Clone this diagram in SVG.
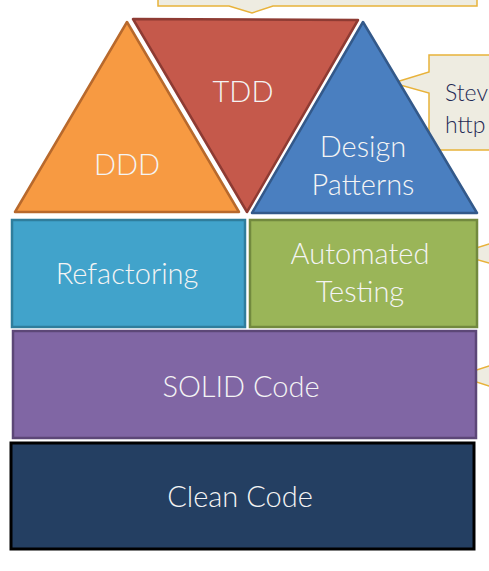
<svg xmlns="http://www.w3.org/2000/svg" width="489" height="571" viewBox="0 0 489 571">
<style>
.lbl{font-family:Lato,"Open Sans","DejaVu Sans",sans-serif;font-weight:300;font-size:29px;fill:#f4f4f4;text-anchor:middle}
.call{fill:#eeece1;stroke:#e8b23a;stroke-width:1.5}
.ctxt{font-family:Lato,"Open Sans","DejaVu Sans",sans-serif;font-weight:300;font-size:23px;fill:#1f2a55}
</style>
<rect width="489" height="571" fill="#ffffff"/>
<g id="callouts">
<path class="call" d="M158,-5 L477,-5 L477,6 L273,6 L252,13 L229,6 L158,6 Z"/>
<path class="call" d="M429,55 L495,55 L495,150 L429,150 L429,93 L393,83 L429,72 Z"/>
<text class="ctxt" x="445" y="101">Stev</text>
<text class="ctxt" x="445" y="133">http</text>
<path class="call" d="M495,244 L489,244 L457,254 L489,263 L495,263 Z"/>
<path class="call" d="M495,366 L489,366 L458,376 L489,386 L495,386 Z"/>
</g>
<g id="ddd">
<polygon points="127,22 239,212 15,212" fill="#f79a42" stroke="#b8692c" stroke-width="2.5" stroke-linejoin="round"/>
<text class="lbl" x="127" y="175">DDD</text>
</g>
<g id="tdd">
<polygon points="133,19 358,20 247,212" fill="#c5594b" stroke="#8e3b33" stroke-width="2.5" stroke-linejoin="round"/>
<text class="lbl" x="243" y="102">TDD</text>
</g>
<g id="design-patterns">
<polygon points="363,22 477,213 252,213" fill="#4a7fc0" stroke="#33598a" stroke-width="2.5" stroke-linejoin="round"/>
<text class="lbl" x="363" y="157">Design</text>
<text class="lbl" x="363" y="195">Patterns</text>
</g>
<g id="refactoring">
<rect x="12" y="220" width="233" height="107" fill="#41a3cb" stroke="#2f7d9c" stroke-width="2.5"/>
<text class="lbl" x="127" y="284">Refactoring</text>
</g>
<g id="automated-testing">
<rect x="250" y="220" width="227" height="107" fill="#9ab558" stroke="#72893e" stroke-width="2.5"/>
<text class="lbl" x="360" y="264">Automated</text>
<text class="lbl" x="360" y="302">Testing</text>
</g>
<g id="solid-code">
<rect x="13" y="331" width="463" height="107" fill="#8066a4" stroke="#5c4777" stroke-width="2.5"/>
<text class="lbl" x="241" y="397">SOLID Code</text>
</g>
<g id="clean-code">
<rect x="11" y="443" width="463" height="106" fill="#243f62" stroke="#000000" stroke-width="3"/>
<text class="lbl" x="240" y="507">Clean Code</text>
</g>
<g id="connectors"></g>
</svg>
